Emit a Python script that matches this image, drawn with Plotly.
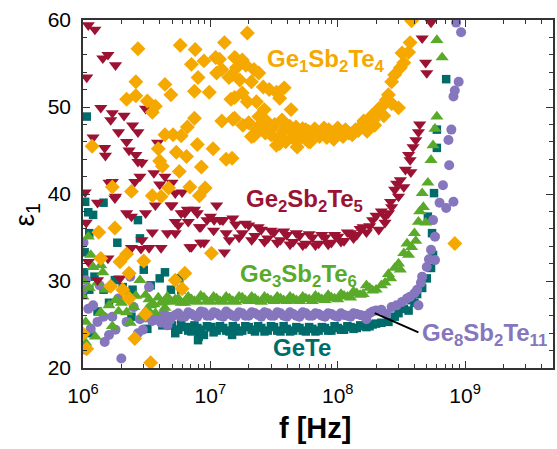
import plotly.graph_objects as go
import math

# ---------------- data ----------------
# shared frequency grids of the two interleaved sweeps in the flat region (Hz)
F_A = [5.0e6, 5.6e6, 6.3e6, 7.1e6, 7.9e6, 8.9e6,
       1.0e7, 1.12e7, 1.26e7, 1.41e7, 1.58e7, 1.78e7, 2.0e7, 2.24e7, 2.51e7, 2.82e7,
       3.16e7, 3.55e7, 3.98e7, 4.47e7, 5.01e7, 5.62e7, 6.31e7, 7.08e7, 7.94e7, 8.91e7,
       1.0e8, 1.12e8, 1.26e8, 1.41e8, 1.58e8, 1.78e8, 2.0e8]
F_B = [5.3e6, 5.9e6, 6.7e6, 7.5e6, 8.4e6, 9.4e6,
       1.06e7, 1.19e7, 1.33e7, 1.5e7, 1.68e7, 1.88e7, 2.11e7, 2.37e7, 2.66e7, 2.99e7,
       3.35e7, 3.76e7, 4.22e7, 4.73e7, 5.31e7, 5.96e7, 6.68e7, 7.5e7, 8.41e7, 9.44e7,
       1.06e8, 1.19e8, 1.33e8, 1.5e8, 1.68e8, 1.88e8]

# GeTe
gete_A = [24.9, 24.4, 24.7, 24.2, 24.6, 23.8,
          24.7, 24.3, 24.6, 24.2, 24.6, 24.3, 24.7, 24.2, 24.6, 24.3,
          24.7, 24.2, 24.5, 24.3, 24.6, 24.2, 24.5, 24.3, 24.6, 24.3,
          24.6, 24.4, 24.7, 24.6, 24.8, 24.8, 25.1]
gete_B = [24.0, 25.2, 24.3, 24.9, 24.4, 24.8,
          24.1, 24.8, 24.3, 24.8, 24.2, 24.8, 24.4, 24.8, 24.2, 24.8,
          24.3, 24.8, 24.2, 24.7, 24.3, 24.7, 24.2, 24.7, 24.3, 24.8,
          24.4, 24.8, 24.5, 24.9, 24.7, 25.0]
gete_pts = [(1.0e6, 28.5), (1.02e6, 31.0), (1.03e6, 33.3), (1.07e6, 48.9), (1.04e6, 39.1),
            (1.1e6, 37.9), (1.12e6, 35.5), (1.2e6, 37.6), (1.23e6, 30.5), (1.12e6, 29.0),
            (1.45e6, 39.0), (1.45e6, 29.0), (1.78e6, 30.1), (1.86e6, 34.4), (2.05e6, 29.3),
            (2.45e6, 29.0), (2.7e6, 37.0), (2.8e6, 34.9), (3.0e6, 31.3), (3.4e6, 29.5),
            (3.5e6, 25.5), (4.0e6, 30.3), (4.4e6, 31.0), (4.9e6, 29.0), (5.7e6, 30.3),
            (5.9e6, 29.0), (6.9e6, 24.7), (7.6e6, 24.4), (8.1e6, 23.6), (8.0e6, 23.2),
            (1.02e7, 24.7), (1.48e7, 23.8), (1.3e6, 26.5), (1.6e6, 27.5), (1.15e6, 24.0),
            (3.8e6, 25.8), (4.2e6, 24.9), (4.6e6, 25.4), (3.2e6, 24.5), (2.4e6, 25.9),
            (2.2e8, 25.2), (2.5e8, 25.3), (2.8e8, 25.9), (3.0e8, 26.3), (3.3e8, 26.8),
            (3.6e8, 26.6), (3.8e8, 27.8), (4.0e8, 27.5), (4.2e8, 28.5), (4.6e8, 29.2),
            (5.0e8, 30.3), (5.4e8, 31.5), (5.6e8, 33.0), (5.5e8, 35.5), (5.1e8, 37.4),
            (5.7e8, 40.1), (6.0e8, 45.3), (6.0e8, 47.4), (7.1e8, 53.2)]

# Ge8Sb2Te11
ge8_A = [25.9, 26.3, 25.9, 26.2, 25.9, 26.4,
         26.0, 26.3, 25.9, 26.2, 25.9, 26.3, 26.0, 26.3, 25.9, 26.3,
         26.0, 26.3, 25.9, 26.2, 25.9, 26.3, 26.0, 26.2, 25.9, 26.2,
         25.9, 26.1, 25.9, 26.2, 26.0, 26.3, 26.6]
ge8_B = [26.1, 25.9, 26.4, 26.0, 26.5, 26.0,
         26.4, 26.0, 26.5, 26.0, 26.4, 26.0, 26.4, 26.1, 26.4, 26.0,
         26.4, 26.0, 26.4, 26.0, 26.4, 26.0, 26.3, 26.0, 26.3, 26.0,
         26.3, 26.0, 26.3, 26.1, 25.6, 26.5]
ge8_pts = [(1.0e6, 29.0), (1.01e6, 34.4), (1.02e6, 22.4), (1.05e6, 22.1), (1.05e6, 30.1),
           (1.1e6, 26.8), (1.2e6, 27.2), (1.3e6, 25.3), (1.45e6, 25.9), (1.48e6, 23.0),
           (1.6e6, 23.8), (1.7e6, 25.9), (1.8e6, 24.4), (2.0e6, 21.1), (2.2e6, 25.3),
           (2.35e6, 30.5), (2.7e6, 24.0), (2.95e6, 24.4), (3.3e6, 29.3), (4.1e6, 25.2),
           (4.6e6, 24.9), (3.6e6, 26.0), (4.3e6, 26.3), (2.5e6, 27.0), (1.9e6, 28.0),
           (1.15e6, 24.5), (1.35e6, 29.5),
           (3.1e6, 25.8), (3.5e6, 25.4), (3.8e6, 25.9), (4.0e6, 25.6), (4.5e6, 26.0),
           (4.8e6, 25.5), (2.8e6, 25.6),
           (2.2e8, 26.7), (2.4e8, 26.2), (2.65e8, 27.0), (2.9e8, 27.2), (3.2e8, 27.6),
           (3.5e8, 28.0), (3.7e8, 28.2), (4.0e8, 28.6), (4.2e8, 29.0), (4.3e8, 27.2),
           (4.5e8, 29.8), (4.6e8, 30.5), (5.0e8, 31.6), (5.2e8, 32.5), (5.4e8, 33.6),
           (5.8e8, 32.4), (5.8e8, 35.1), (5.6e8, 37.0), (6.3e8, 39.0), (7.1e8, 38.4),
           (8.1e8, 39.1), (6.7e8, 41.0), (7.5e8, 43.3), (7.4e8, 46.2), (7.8e8, 47.4),
           (8.1e8, 51.2), (8.3e8, 51.9), (8.9e8, 52.9), (8.5e8, 59.7), (9.3e8, 58.6)]

# Ge3Sb2Te6
ge3_A = [27.6, 28.0, 27.5, 27.9, 27.6, 28.1,
         27.6, 28.0, 27.6, 28.0, 27.6, 28.1, 27.7, 28.0, 27.6, 28.0,
         27.7, 28.0, 27.7, 28.0, 27.7, 28.0, 27.7, 28.1, 27.8, 28.1,
         27.9, 28.3, 28.1, 28.6, 28.5, 29.2, 29.0]
ge3_B = [27.9, 27.5, 28.2, 27.7, 28.3, 27.7,
         28.2, 27.7, 28.2, 27.7, 28.2, 27.8, 28.2, 27.7, 28.2, 27.8,
         28.2, 27.8, 28.2, 27.8, 28.2, 27.9, 28.3, 27.9, 28.4, 28.0,
         28.5, 28.2, 28.8, 28.4, 29.5, 28.9]
ge3_pts = [(1.0e6, 28.2), (1.05e6, 22.9), (1.05e6, 25.3), (1.1e6, 35.1), (1.15e6, 33.0),
           (1.2e6, 31.6), (1.25e6, 23.6), (1.12e6, 29.2), (1.38e6, 31.8), (1.43e6, 31.0),
           (1.38e6, 26.4), (1.5e6, 29.0), (1.6e6, 27.2), (1.8e6, 27.8), (2.2e6, 28.7),
           (2.2e6, 26.4), (2.35e6, 25.2), (2.8e6, 30.1), (2.95e6, 25.9), (3.1e6, 28.4),
           (3.7e6, 26.3), (4.1e6, 27.5), (4.8e6, 27.8), (1.3e6, 29.8), (2.5e6, 27.0),
           (3.4e6, 27.2), (1.0e6, 30.0), (1.7e6, 24.8),
           (3.3e6, 27.9), (3.6e6, 27.3), (3.9e6, 28.1), (4.3e6, 27.6), (4.6e6, 28.2),
           (2.6e6, 28.3), (2.0e6, 27.5), (1.9e6, 26.5), (3.2e6, 26.8), (4.4e6, 26.9),
           (2.2e8, 29.5), (2.35e8, 29.8), (2.5e8, 30.8), (2.6e8, 30.3), (2.8e8, 31.5),
           (3.0e8, 32.0), (3.1e8, 31.3), (3.3e8, 33.2), (3.5e8, 34.3), (3.6e8, 33.0),
           (3.8e8, 33.9), (4.0e8, 35.5), (4.1e8, 34.6), (4.3e8, 36.8), (4.4e8, 38.0),
           (4.6e8, 40.1), (4.7e8, 38.5), (4.9e8, 36.7), (5.1e8, 41.3), (5.4e8, 43.9),
           (5.6e8, 45.6), (5.8e8, 47.5), (6.0e8, 48.9), (6.6e8, 55.7), (6.0e8, 57.7)]

# Ge2Sb2Te5
ge2_A = [38.7, 36.4, 37.8, 33.9, 37.8, 34.4,
         37.4, 38.7, 37.0, 34.7, 36.5, 35.5, 36.4, 35.2, 35.9, 34.9,
         35.6, 34.7, 35.3, 34.5, 35.2, 34.3, 35.0, 34.3, 35.0, 34.4,
         35.1, 34.6, 35.5, 35.3, 36.2, 36.3, 37.5]
ge2_B = [35.5, 37.8, 36.8, 38.2, 36.2, 37.0,
         35.8, 37.0, 35.5, 37.2, 35.0, 36.6, 34.7, 36.2, 34.5, 35.8,
         34.4, 35.7, 34.2, 35.5, 34.1, 35.4, 34.1, 35.3, 34.2, 35.3,
         34.5, 35.6, 34.9, 36.0, 35.6, 37.0]
ge2_pts = [(1.1e6, 59.4), (1.24e6, 58.9), (1.43e6, 55.6), (1.57e6, 56.0), (1.8e6, 54.8),
           (1.07e6, 53.4), (1.38e6, 49.9), (1.7e6, 49.3), (2.1e6, 49.0), (3.1e6, 49.8),
           (1.65e6, 48.5), (2.45e6, 47.9), (1.9e6, 47.1), (2.7e6, 47.1), (1.2e6, 46.5),
           (1.48e6, 45.3), (1.5e6, 44.4), (2.2e6, 46.0), (2.3e6, 45.0), (2.6e6, 44.5),
           (2.7e6, 43.7), (2.9e6, 43.6), (3.85e6, 45.9), (3.6e6, 42.4), (4.4e6, 42.0),
           (5.0e6, 41.3), (4.0e6, 41.1), (2.8e6, 42.0), (2.55e6, 41.4), (1.7e6, 41.4),
           (1.6e6, 41.3), (5.3e6, 40.1), (6.0e6, 40.2), (1.04e6, 40.2), (1.8e6, 39.7),
           (1.3e6, 39.0), (1.78e6, 39.5), (2.2e6, 37.8), (2.4e6, 37.4), (1.06e6, 36.7),
           (3.1e6, 37.8), (3.7e6, 38.7), (4.9e6, 38.7), (6.6e6, 38.2), (1.07e7, 37.0),
           (1.24e7, 37.0), (8.2e6, 36.2), (5.3e6, 36.8), (3.5e6, 35.6), (4.6e6, 35.5),
           (2.9e6, 34.7), (2.4e6, 33.8), (2.85e6, 33.7), (3.3e6, 33.8), (4.1e6, 33.8),
           (6.9e6, 33.9), (8.4e6, 34.4), (1.29e7, 33.3), (1.1e6, 32.2), (1.57e6, 32.6),
           (1.3e6, 30.1), (1.95e6, 30.3),
           (2.1e8, 35.9), (2.2e8, 38.0), (2.35e8, 37.4), (2.35e8, 36.7), (2.5e8, 37.8),
           (2.6e8, 39.1), (2.65e8, 38.5), (2.8e8, 40.5), (2.9e8, 41.2), (3.0e8, 39.7),
           (3.1e8, 41.6), (3.3e8, 40.8), (3.4e8, 42.8), (3.6e8, 44.5), (3.7e8, 43.9),
           (3.75e8, 42.5), (3.9e8, 45.4), (4.1e8, 46.2), (4.3e8, 47.1), (4.4e8, 48.0),
           (4.9e8, 55.1), (5.0e8, 53.9), (4.6e8, 57.9), (5.4e8, 59.7)]

# Ge1Sb2Te4
ge1_pts = [(2.7e6, 56.7), (5.8e6, 57.1), (7.6e6, 56.6), (1.29e7, 57.4), (7.1e6, 54.9),
           (8.9e6, 55.3), (1.1e7, 55.7), (1.18e7, 55.5), (1.58e7, 55.6), (8.0e6, 53.4),
           (1.12e7, 53.9), (1.23e7, 54.3), (1.4e7, 53.4), (1.6e7, 54.5), (2.6e6, 52.9),
           (4.4e6, 52.6), (4.9e6, 51.4), (2.2e6, 50.9), (2.6e6, 51.3), (3.2e6, 50.7),
           (3.7e6, 50.1), (3.5e6, 49.4), (7.5e6, 51.8), (9.8e6, 51.7), (1.45e7, 50.9),
           (7.5e6, 48.7), (6.6e6, 47.7), (1.23e7, 48.4), (1.5e7, 48.6), (4.4e6, 46.8),
           (5.1e6, 46.8), (5.9e6, 46.7), (7.9e6, 45.7), (1.05e7, 45.2), (1.18e6, 45.5),
           (3.9e6, 45.2), (5.4e6, 44.8), (6.5e6, 44.3), (4.0e6, 43.8), (4.2e6, 43.2),
           (5.7e6, 42.6), (8.5e6, 43.1), (1.33e7, 44.0), (6.9e6, 40.8), (9.1e6, 40.7),
           (4.7e6, 40.7), (2.4e6, 40.3), (1.7e6, 40.8), (3.5e6, 39.8), (8.2e6, 39.8),
           (4.1e6, 39.7), (1.78e6, 36.1), (1.33e6, 35.6), (2.2e6, 33.1), (1.95e6, 32.2),
           (3.0e6, 32.3), (1.38e6, 32.6), (1.02e7, 33.2), (2.3e6, 30.9), (6.3e6, 30.9),
           (5.3e6, 30.1), (6.0e6, 29.1), (1.65e6, 29.4), (2.05e6, 29.0), (2.3e6, 28.0),
           (3.1e6, 26.2), (1.07e6, 22.2), (2.55e6, 23.4), (3.4e6, 20.6), (1.0e6, 23.9),
           (1.95e7, 58.5), (1.55e7, 55.7), (1.78e7, 55.4), (1.9e7, 54.8), (2.2e7, 54.3),
           (2.4e7, 53.9), (1.48e7, 53.7), (1.7e7, 53.1), (2.1e7, 52.9), (2.6e7, 52.3),
           (2.9e7, 52.0), (3.8e7, 52.2), (1.78e7, 51.6), (1.55e7, 51.1), (1.95e7, 50.6),
           (2.3e7, 50.6), (2.65e7, 49.7), (3.3e7, 51.7), (3.5e7, 51.0), (4.3e7, 49.7),
           (1.55e7, 48.7), (2.4e7, 48.9), (2.7e7, 48.5), (3.05e7, 47.7), (3.65e7, 48.5),
           (4.0e7, 47.6), (4.7e7, 47.7), (5.1e7, 47.0), (5.6e7, 47.4), (6.3e7, 46.8),
           (6.9e7, 47.1), (7.5e7, 47.0), (8.5e7, 47.4), (9.6e7, 47.1), (1.07e8, 46.8),
           (1.22e8, 47.0), (1.38e8, 47.4), (1.55e8, 47.9), (1.75e8, 47.7), (1.9e8, 48.5),
           (2.0e8, 49.3), (2.2e8, 50.0), (2.4e8, 50.8), (2.65e8, 50.4), (3.0e8, 49.9),
           (2.5e8, 51.4), (2.65e8, 52.9), (2.8e8, 53.7), (3.1e8, 54.5), (3.3e8, 55.1),
           (3.2e8, 56.2), (3.6e8, 56.3), (3.7e8, 57.4), (3.8e8, 59.9), (2.1e7, 46.6),
           (3.3e7, 45.6), (4.8e7, 45.4), (5.9e7, 46.0), (1.48e7, 44.1), (8.3e8, 34.3),
           (3.0e7, 46.8), (3.2e7, 48.0), (3.4e7, 46.3), (3.7e7, 47.2), (3.9e7, 46.0),
           (4.2e7, 47.8), (4.4e7, 46.5), (4.6e7, 47.0), (4.9e7, 46.2), (5.3e7, 47.5),
           (5.5e7, 46.4), (5.9e7, 47.2), (6.1e7, 46.0), (6.6e7, 47.5), (7.2e7, 46.6),
           (7.8e7, 47.6), (8.2e7, 46.5), (9.0e7, 47.0), (9.3e7, 46.3), (1.0e8, 47.6),
           (1.1e8, 46.6), (1.15e8, 47.4), (1.3e8, 46.8), (1.45e8, 47.3), (1.6e8, 48.4),
           (1.7e8, 47.2), (1.85e8, 49.0), (1.95e8, 47.9), (2.1e8, 49.8), (2.3e8, 49.0),
           (2.7e7, 47.0), (2.5e7, 48.0), (2.3e7, 47.4), (2.0e7, 48.2), (1.8e7, 47.9),
           (2.2e7, 46.7), (3.5e7, 45.8)]

# label text and positions (frequency in Hz, epsilon)
labels = [
    ("Ge<sub>1</sub>Sb<sub>2</sub>Te<sub>4</sub>", 8.05e7, 55.4, "#F5A800"),
    ("Ge<sub>2</sub>Sb<sub>2</sub>Te<sub>5</sub>", 5.5e7, 39.2, "#9C1233"),
    ("Ge<sub>3</sub>Sb<sub>2</sub>Te<sub>6</sub>", 4.9e7, 30.6, "#5AAA2A"),
    ("GeTe", 5.25e7, 22.3, "#006B6B"),
    ("Ge<sub>8</sub>Sb<sub>2</sub>Te<sub>11</sub>", 1.42e9, 23.9, "#8576BD"),
]
leader_f = [1.95e8, 4.3e8]
leader_e = [26.3, 24.1]

# ---------------- figure ----------------
for a, b in [(F_A, gete_A), (F_B, gete_B), (F_A, ge8_A), (F_B, ge8_B),
             (F_A, ge3_A), (F_B, ge3_B), (F_A, ge2_A), (F_B, ge2_B)]:
    assert len(a) == len(b)


def series(band_a, band_b, pts):
    xs = list(F_A) + list(F_B) + [p[0] for p in pts]
    ys = list(band_a) + list(band_b) + [p[1] for p in pts]
    return xs, ys


fig = go.Figure()
specs = [
    (series(gete_A, gete_B, gete_pts), "square", 8.5, "#006B6B"),
    (series(ge8_A, ge8_B, ge8_pts), "circle", 10, "#8576BD"),
    (series(ge3_A, ge3_B, ge3_pts), "triangle-up", 11.5, "#5AAA2A"),
    (series(ge2_A, ge2_B, ge2_pts), "triangle-down", 11.5, "#9C1233"),
    (([p[0] for p in ge1_pts], [p[1] for p in ge1_pts]), "diamond", 11.5, "#F5A800"),
]
for (xs, ys), sym, sz, col in specs:
    fig.add_trace(go.Scatter(x=xs, y=ys, mode="markers",
                             marker=dict(symbol=sym, size=sz, color=col, line=dict(width=0)),
                             hoverinfo="skip"))

fig.add_trace(go.Scatter(x=leader_f, y=leader_e, mode="lines",
                         line=dict(color="black", width=2), hoverinfo="skip"))

FONT = "Arial, Liberation Sans, sans-serif"
for text, f, e, col in labels:
    fig.add_annotation(x=math.log10(f), y=e, xref="x", yref="y", text="<b>" + text + "</b>",
                       showarrow=False, font=dict(family=FONT, size=24, color=col),
                       xanchor="center", yanchor="middle")

fig.add_annotation(x=-0.12, y=0.44, xref="paper", yref="paper", text="ε<sub>1</sub>",
                   showarrow=False, textangle=-90, font=dict(family=FONT, size=28, color="black"),
                   xanchor="center", yanchor="middle")
fig.add_annotation(x=0.494, y=-0.172, xref="paper", yref="paper", text="<b>f [Hz]</b>",
                   showarrow=False, font=dict(family=FONT, size=29, color="black"),
                   xanchor="center", yanchor="middle")

minor_x = [m * 10 ** d for d in (6, 7, 8, 9) for m in range(2, 10)]
xt = [1e6, 1e7, 1e8, 1e9]
fig.update_xaxes(type="log", range=[6, 9.69], tickvals=xt,
                 ticktext=["10<sup>6</sup>", "10<sup>7</sup>", "10<sup>8</sup>", "10<sup>9</sup>"],
                 ticks="inside", ticklen=7, tickwidth=1.3, tickcolor="#333",
                 minor=dict(tickvals=minor_x, ticks="inside", ticklen=4, tickwidth=1.1, tickcolor="#333"),
                 showgrid=False, zeroline=False, showline=True, linecolor="#333", linewidth=1.6,
                 mirror="allticks", tickfont=dict(family=FONT, size=21, color="black"),
                 ticklabelstandoff=8)
fig.update_yaxes(range=[20, 60], tickvals=[20, 30, 40, 50, 60],
                 ticks="inside", ticklen=7, tickwidth=1.3, tickcolor="#333",
                 minor=dict(dtick=2, ticks="inside", ticklen=4, tickwidth=1.1, tickcolor="#333"),
                 showgrid=False, zeroline=False, showline=True, linecolor="#333", linewidth=1.6,
                 mirror="allticks", tickfont=dict(family=FONT, size=21, color="black"),
                 ticklabelstandoff=6)
fig.update_layout(width=557, height=449, margin=dict(l=83, r=2, t=20, b=81),
                  plot_bgcolor="white", paper_bgcolor="white", showlegend=False)

fig.write_html("out.html")
